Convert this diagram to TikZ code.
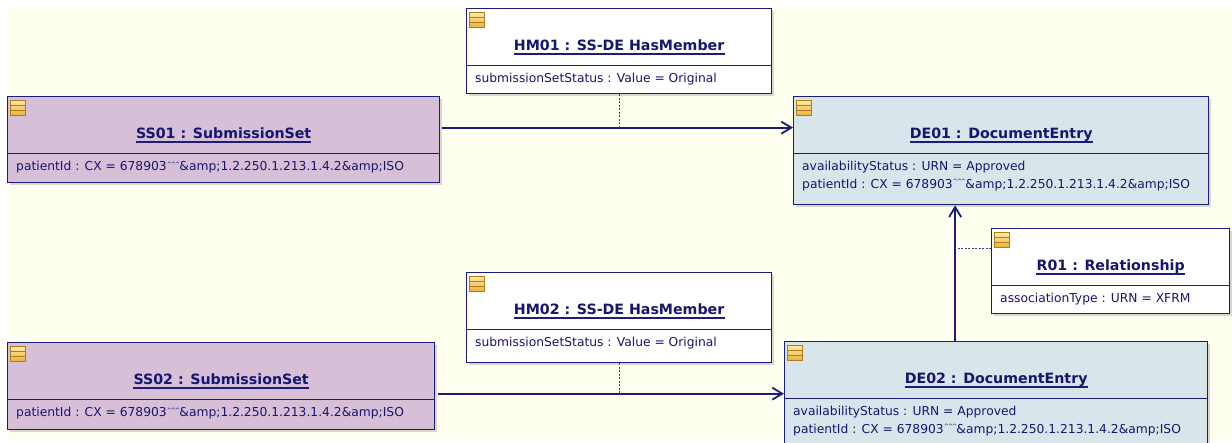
\documentclass[tikz,border=0pt]{standalone}
\usepackage{fontspec}
\setmainfont{DejaVu Sans}
\usetikzlibrary{arrows.meta,shadows}

\definecolor{bgfill}{RGB}{255,255,240}
\definecolor{umlline}{RGB}{28,28,125}
\definecolor{umltext}{RGB}{22,22,112}
\definecolor{ssfill}{RGB}{216,191,216}
\definecolor{defill}{RGB}{216,229,234}
\definecolor{iconlight}{RGB}{255,236,170}
\definecolor{icondark}{RGB}{232,180,60}
\definecolor{iconedge}{RGB}{176,124,30}

\tikzset{
  obj/.style={draw=umlline, line width=1.3pt, anchor=north west, inner sep=0pt,
    drop shadow={shadow xshift=2pt, shadow yshift=-2pt, opacity=0.3}},
  objtitle/.style={anchor=base, inner sep=0pt, text=umltext,
    font=\fontsize{14.2}{17}\selectfont\bfseries},
  objattr/.style={anchor=base west, inner sep=0pt, text=umltext,
    font=\fontsize{12.3}{15}\selectfont},
  assoc/.style={draw=umlline, line width=1.8pt,
    -{Straight Barb[length=10pt,width=12pt]}},
  link/.style={draw=umlline!85, line width=0.8pt, dash pattern=on 2pt off 1.5pt},
  icon/.style={draw=iconedge, line width=0.7pt, top color=iconlight, bottom color=icondark}
}

% tiny carets as in the patient id
\newcommand\crt{\raisebox{4.5pt}{\fontsize{6}{6}\selectfont\textasciicircum}\kern-0.8pt}
\newcommand\pid{patientId : CX = 678903\crt\crt\crt\&amp;1.2.250.1.213.1.4.2\&amp;ISO}

% object box: name, x, y, width, height, fill, title, attributes
\newcommand\umlobj[8]{%
  \node[obj, fill=#6, minimum width=#4pt, minimum height=#5pt] (#1) at (#2,#3) {};
  \draw[umlline, line width=1pt] ([yshift=-57pt]#1.north west) -- ([yshift=-57pt]#1.north east);
  \draw[icon] ([xshift=3pt,yshift=-4pt]#1.north west) rectangle ++(15,15);
  \draw[iconedge, line width=0.6pt] ([xshift=3pt,yshift=-9pt]#1.north west) -- ++(15,0);
  \draw[iconedge, line width=0.6pt] ([xshift=3pt,yshift=-14pt]#1.north west) -- ++(15,0);
  \node[objtitle] (#1-t) at ([yshift=-42.5pt]#1.north) {#7};
  \draw[umlline, line width=1.5pt] ([yshift=-3.5pt]#1-t.base west) -- ([yshift=-3.5pt]#1-t.base east);
  \foreach \att [count=\i] in {#8}
    \node[objattr] at ([xshift=9pt,yshift={-57pt-17.5pt*\i}]#1.north west) {\att};
}

\begin{document}
\begin{tikzpicture}[x=1pt,y=-1pt]
\useasboundingbox (0,0) rectangle (1232,442);
\clip (0,0) rectangle (1232,442);
\fill[bgfill] (7,7) rectangle (1232,442);

% Objects
\umlobj{HM01}{466}{8}{305}{85}{white}{HM01 : SS-DE HasMember}{submissionSetStatus : Value = Original}
\umlobj{SS01}{7}{96}{432}{86}{ssfill}{SS01 : SubmissionSet}{\pid}
\umlobj{DE01}{793}{96}{415}{108}{defill}{DE01 : DocumentEntry}{availabilityStatus : URN = Approved, \pid}
\umlobj{R01}{991}{228}{238}{85}{white}{R01 : Relationship}{associationType : URN = XFRM}
\umlobj{HM02}{466}{272}{305}{90}{white}{HM02 : SS-DE HasMember}{submissionSetStatus : Value = Original}
\umlobj{SS02}{7}{342}{427}{87}{ssfill}{SS02 : SubmissionSet}{\pid}
\umlobj{DE02}{784}{341}{423}{106}{defill}{DE02 : DocumentEntry}{availabilityStatus : URN = Approved, \pid}

% Connectors
\coordinate (a1) at ([xshift=2pt,yshift=12pt]SS01.east);
\coordinate (a2) at ([xshift=3pt,yshift=-7.5pt]SS02.east);
\coordinate (a3) at ([xshift=-41pt]DE02.north);
\draw[assoc] (a1) -- (a1 -| DE01.west);
\draw[assoc] (a2) -- (a2 -| DE02.west);
\draw[assoc] (a3) -- (a3 |- DE01.south);

% Association classes
\draw[link] (HM01.south) -- (HM01.south |- a1);
\draw[link] (HM02.south) -- (HM02.south |- a2);
\draw[link] ([yshift=22.5pt]R01.west) -- ([yshift=22.5pt]R01.west -| a3);
\end{tikzpicture}
\end{document}
